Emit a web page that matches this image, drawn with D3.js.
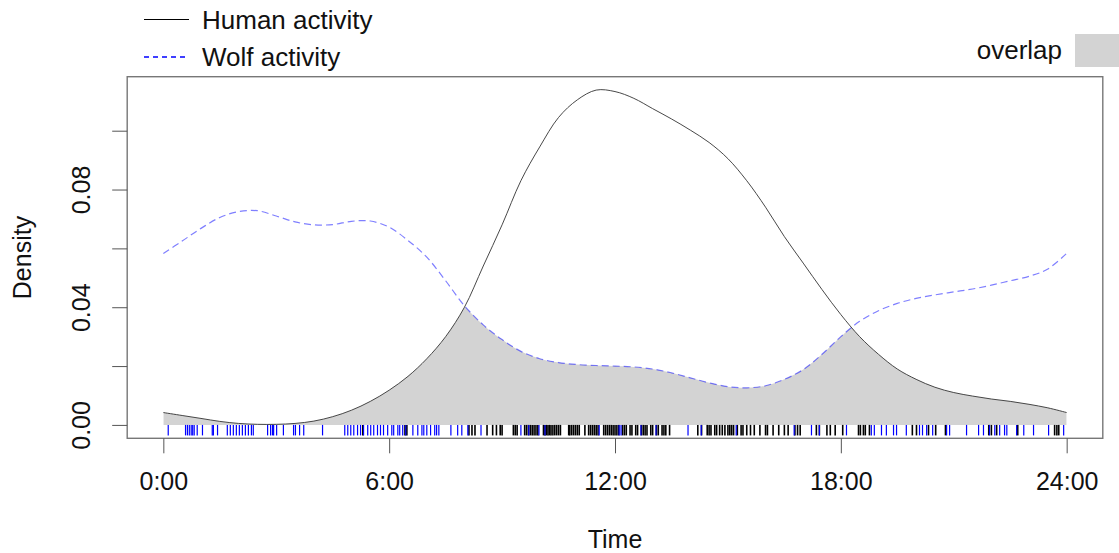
<!DOCTYPE html>
<html>
<head>
<meta charset="utf-8">
<script src="https://cdn.jsdelivr.net/npm/d3@7"></script>
<style>
body { margin: 0; background: #fff; }
svg { display: block; font-family: "Liberation Sans", Arial, sans-serif; }
</style>
</head>
<body>
<svg id="chart" width="1119" height="553"></svg>
<script>
// density curves, every half hour
var hours = [0, 0.5, 1, 1.5, 2, 2.5, 3, 3.5, 4, 4.5, 5, 5.5, 6, 6.5, 7, 7.5, 8, 8.5, 9, 9.5,
  10, 10.5, 11, 11.5, 12, 12.5, 13, 13.5, 14, 14.5, 15, 15.5, 16, 16.5, 17, 17.5, 18, 18.5, 19, 19.5,
  20, 20.5, 21, 21.5, 22, 22.5, 23, 23.5, 24];

var humanDensity = [0.0042, 0.0032, 0.0022, 0.0012, 0.0005, 0.0002, 0.0002, 0.0005, 0.0013, 0.0028,
  0.0050, 0.0080, 0.0118, 0.0165, 0.0225, 0.0300, 0.0400, 0.0540, 0.0680, 0.0830,
  0.0945, 0.1045, 0.1105, 0.1138, 0.1133, 0.1110, 0.1075, 0.1040, 0.1002, 0.0960,
  0.0905, 0.0830, 0.0740, 0.0640, 0.0550, 0.0460, 0.0375, 0.0300, 0.0240, 0.0190,
  0.0155, 0.0128, 0.0110, 0.0098, 0.0088, 0.0080, 0.0070, 0.0058, 0.0042];

var wolfDensity = [0.0583, 0.0625, 0.0668, 0.0705, 0.0725, 0.0728, 0.0710, 0.0690, 0.0680, 0.0681,
  0.0692, 0.0693, 0.0672, 0.0627, 0.0570, 0.0490, 0.0405, 0.0340, 0.0290, 0.0250,
  0.0225, 0.0212, 0.0205, 0.0202, 0.0200, 0.0197, 0.0190, 0.0177, 0.0160, 0.0143,
  0.0130, 0.0126, 0.0133, 0.0155, 0.0188, 0.0240, 0.0300, 0.0352, 0.0388, 0.0413,
  0.0430, 0.0442, 0.0452, 0.0462, 0.0475, 0.0490, 0.0505, 0.0530, 0.0583];

// observation times (rug)
var humanRug = [5.3, 6.42, 6.47, 8.12, 8.2, 8.28, 8.6, 8.75, 8.85, 8.95, 9.0, 9.3, 9.35, 9.4,
  9.6, 9.65, 9.7, 9.75, 9.8, 9.85, 9.9, 9.95,
  10.1, 10.14, 10.18, 10.22, 10.26, 10.3, 10.35, 10.4, 10.45, 10.5, 10.55,
  10.77, 10.8, 10.85, 10.9, 10.95, 11.0, 11.05, 11.2, 11.3, 11.35, 11.4, 11.45, 11.5, 11.55,
  11.7, 11.75, 11.8, 11.85, 11.9, 11.95, 12.0, 12.05, 12.1, 12.2, 12.25, 12.3, 12.4, 12.45,
  12.55, 12.6, 12.7, 12.75, 12.8, 12.85, 12.95, 13.0, 13.1, 13.15, 13.25, 13.3, 13.35, 13.45,
  14.2, 14.3, 14.45, 14.5, 14.55, 14.65, 14.7, 14.78, 14.85, 14.92, 15.0, 15.05, 15.1, 15.15,
  15.25, 15.35, 15.4, 15.5, 15.6, 15.7, 15.85, 16.0, 16.05, 16.2, 16.35, 16.5, 16.6,
  16.78, 16.85, 16.92, 17.35, 17.43, 17.63, 17.72, 17.85, 18.05,
  18.47, 18.52, 18.6, 18.65, 18.76, 19.9, 20.01, 20.33, 20.52, 20.78,
  21.93, 22.0, 22.14, 22.7, 23.68, 23.74, 23.79];

var wolfRug = [0.13, 0.59, 0.64, 0.69, 0.74, 0.78, 0.82, 0.9, 1.04, 1.3, 1.33, 1.44,
  1.7, 1.78, 1.86, 1.94, 2.02, 2.1, 2.18, 2.26, 2.34, 2.39, 2.77, 2.85, 2.9, 2.93, 3.01,
  3.19, 3.46, 3.51, 3.62, 3.73, 4.23, 4.82, 4.9, 4.98, 5.06, 5.16, 5.24, 5.32, 5.43,
  5.51, 5.59, 5.69, 5.77, 5.85, 5.96, 6.07, 6.12, 6.23, 6.28, 6.36, 6.44, 6.63, 6.76,
  6.87, 6.92, 7.0, 7.1, 7.21, 7.26, 7.32, 7.64, 7.82, 7.93, 8.09, 8.44, 9.5, 9.71,
  9.98, 10.14, 11.58, 12.11, 12.16, 12.69, 13.09, 13.94, 14.29, 15.22, 16.76, 17.22,
  17.43, 18.15, 18.81, 18.89, 19.08, 19.21, 19.4, 19.48, 19.74, 20.09, 20.17, 20.28,
  20.44, 20.81, 20.89, 21.34, 21.66, 21.79, 21.95, 22.09, 22.22, 22.35, 22.41, 22.67,
  22.86, 23.12, 23.52, 23.92];

var xTicks = [0, 6, 12, 18, 24];
var yTicks = [0, 0.02, 0.04, 0.06, 0.08, 0.10];
var yLabelled = [0, 0.04, 0.08];

var svg = d3.select("#chart");
var fontSize = 25;
var legendSize = 26;

// R style 4% padding on both axes
var xPad = 0.04 * 24;
var x = d3.scaleLinear()
  .domain([0 - xPad, 24 + xPad])
  .range([127.2, 1102.8]);

var yMax = d3.max(humanDensity.concat(wolfDensity));
var yPad = 0.04 * yMax;
var y = d3.scaleLinear()
  .domain([0 - yPad, yMax + yPad])
  .range([438.3, 76.7]);

var line = d3.line()
  .x(function(d, i){ return x(hours[i]); })
  .y(function(d){ return y(d); })
  .curve(d3.curveCatmullRom);

var area = d3.area()
  .x(function(d, i){ return x(hours[i]); })
  .y0(y(0))
  .y1(function(d){ return y(d); })
  .curve(d3.curveCatmullRom);

// overlap = area under human curve clipped by area under wolf curve
svg.append("clipPath")
  .attr("id", "wolfClip")
  .append("path")
  .attr("d", area(wolfDensity));

svg.append("path")
  .attr("d", area(humanDensity))
  .attr("clip-path", "url(#wolfClip)")
  .attr("fill", "#d3d3d3");

svg.append("path")
  .attr("d", line(humanDensity))
  .attr("fill", "none")
  .attr("stroke", "#333")
  .attr("stroke-width", 0.9);

svg.append("path")
  .attr("d", line(wolfDensity))
  .attr("fill", "none")
  .attr("stroke", "#0000ff")
  .attr("stroke-opacity", 0.5)
  .attr("stroke-width", 1.2)
  .attr("stroke-dasharray", "7,4");

// rugs
var rugTop = y(0), rugBottom = y(0) + 10.5;
svg.append("g").selectAll("line")
  .data(humanRug)
  .enter().append("line")
  .attr("x1", function(d){ return x(d); })
  .attr("x2", function(d){ return x(d); })
  .attr("y1", rugTop)
  .attr("y2", rugBottom)
  .attr("stroke", "#000")
  .attr("stroke-width", 1.6);

svg.append("g").selectAll("line")
  .data(wolfRug)
  .enter().append("line")
  .attr("x1", function(d){ return x(d); })
  .attr("x2", function(d){ return x(d); })
  .attr("y1", rugTop)
  .attr("y2", rugBottom)
  .attr("stroke", "#0000ff")
  .attr("stroke-width", 1.2);

// box
svg.append("rect")
  .attr("x", x.range()[0])
  .attr("y", y.range()[1])
  .attr("width", x.range()[1] - x.range()[0])
  .attr("height", y.range()[0] - y.range()[1])
  .attr("fill", "none")
  .attr("stroke", "#777")
  .attr("stroke-width", 1.4);

// axes
var gX = svg.append("g")
  .attr("transform", "translate(0," + y.range()[0] + ")")
  .call(d3.axisBottom(x)
    .tickValues(xTicks)
    .tickSize(15)
    .tickFormat(function(d){ return d + ":00"; }));
gX.select(".domain").remove();
gX.selectAll(".tick line").attr("stroke", "#555");
gX.selectAll(".tick text")
  .attr("y", 52)
  .attr("dy", null)
  .attr("fill", "#111")
  .style("font-size", fontSize + "px")
  .style("font-family", "'Liberation Sans', Arial, sans-serif");

var gY = svg.append("g")
  .attr("transform", "translate(" + x.range()[0] + ",0)")
  .call(d3.axisLeft(y)
    .tickValues(yTicks)
    .tickSize(15)
    .tickFormat(function(d){
      return yLabelled.indexOf(d) >= 0 ? d3.format(".2f")(d) : "";
    }));
gY.select(".domain").remove();
gY.selectAll(".tick line").attr("stroke", "#555");
gY.selectAll(".tick text")
  .attr("transform", "rotate(-90)")
  .attr("x", 0)
  .attr("y", -37)
  .attr("dy", null)
  .attr("text-anchor", "middle")
  .attr("fill", "#111")
  .style("font-size", fontSize + "px")
  .style("font-family", "'Liberation Sans', Arial, sans-serif");

// axis titles
svg.append("text")
  .attr("x", (x.range()[0] + x.range()[1]) / 2)
  .attr("y", 548)
  .attr("text-anchor", "middle")
  .attr("fill", "#111")
  .style("font-size", fontSize + "px")
  .text("Time");

svg.append("text")
  .attr("transform", "translate(31," + ((y.range()[0] + y.range()[1]) / 2) + ") rotate(-90)")
  .attr("text-anchor", "middle")
  .attr("fill", "#111")
  .style("font-size", fontSize + "px")
  .text("Density");

// legend, top left
var legend = svg.append("g");
legend.append("line")
  .attr("x1", 144).attr("x2", 189).attr("y1", 19.5).attr("y2", 19.5)
  .attr("stroke", "#000").attr("stroke-width", 1);
legend.append("text")
  .attr("x", 202).attr("y", 29)
  .attr("fill", "#111")
  .style("font-size", legendSize + "px")
  .text("Human activity");
legend.append("line")
  .attr("x1", 144).attr("x2", 189).attr("y1", 57).attr("y2", 57)
  .attr("stroke", "#0000ff").attr("stroke-width", 1.3)
  .attr("stroke-dasharray", "5,4");
legend.append("text")
  .attr("x", 202).attr("y", 66)
  .attr("fill", "#111")
  .style("font-size", legendSize + "px")
  .text("Wolf activity");

// legend, top right
svg.append("text")
  .attr("x", 1062).attr("y", 59)
  .attr("text-anchor", "end")
  .attr("fill", "#111")
  .style("font-size", legendSize + "px")
  .text("overlap");
svg.append("rect")
  .attr("x", 1075).attr("y", 34)
  .attr("width", 50).attr("height", 33)
  .attr("fill", "#d3d3d3");
</script>
</body>
</html>
